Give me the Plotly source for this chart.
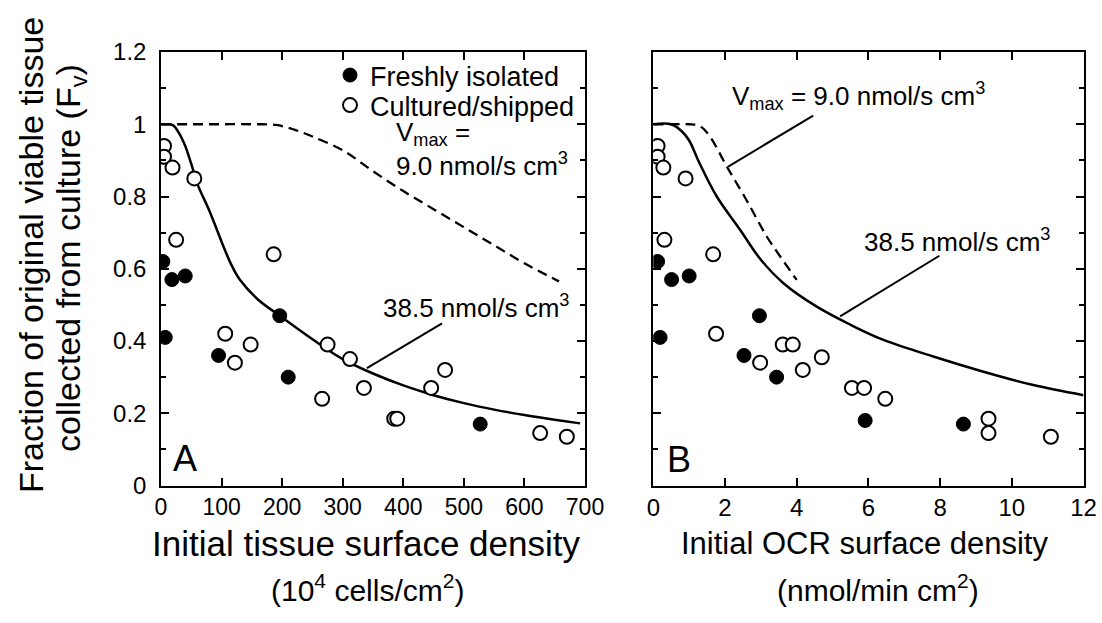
import plotly.graph_objects as go

W, H = 1102, 623

# ---- Panel A: initial tissue surface density (10^4 cells/cm^2) ----
a_fresh_x = [3, 18, 40, 7, 95, 196, 210, 527]
a_fresh_y = [0.62, 0.57, 0.58, 0.41, 0.36, 0.47, 0.30, 0.17]
a_cult_x = [5, 5, 19, 55, 25, 186, 106, 122, 148, 266, 275, 312, 335, 385, 390, 446, 469, 626, 670]
a_cult_y = [0.94, 0.91, 0.88, 0.85, 0.68, 0.64, 0.42, 0.34, 0.39, 0.24, 0.39, 0.35, 0.27, 0.185, 0.185,
            0.27, 0.32, 0.145, 0.135]

# model curves, Vmax = 38.5 (solid) and 9.0 (dashed) nmol/s cm^3
a_fit38_x = [0, 10, 20, 30, 40, 50, 60, 80, 100, 115, 130, 160, 196, 250, 300, 350, 400, 450, 500, 550,
             600, 650, 692]
a_fit38_y = [1.0, 1.0, 0.997, 0.975, 0.94, 0.89, 0.835, 0.76, 0.675, 0.615, 0.57, 0.515, 0.47, 0.405,
             0.35, 0.31, 0.277, 0.25, 0.228, 0.21, 0.195, 0.182, 0.172]
a_fit9_x = [0, 50, 100, 150, 190, 220, 250, 300, 350, 400, 450, 500, 550, 600, 657]
a_fit9_y = [1.0, 1.0, 1.0, 1.0, 0.998, 0.985, 0.966, 0.928, 0.87, 0.815, 0.765, 0.715, 0.665, 0.615,
            0.565]

# ---- Panel B: initial OCR surface density (nmol/min cm^2) ----
b_fresh_x = [0.12, 0.51, 1.0, 0.19, 2.96, 2.53, 3.44, 5.91, 8.65]
b_fresh_y = [0.62, 0.57, 0.58, 0.41, 0.47, 0.36, 0.30, 0.18, 0.17]
b_cult_x = [0.12, 0.12, 0.28, 0.9, 0.31, 1.67, 1.75, 2.98, 3.61, 3.89, 4.17, 4.7, 5.54, 5.88, 6.47,
            9.35, 9.35, 11.09]
b_cult_y = [0.94, 0.91, 0.88, 0.85, 0.68, 0.64, 0.42, 0.34, 0.39, 0.39, 0.32, 0.355, 0.27, 0.27, 0.24,
            0.185, 0.145, 0.135]

b_fit38_x = [0, 0.5, 0.8, 1.0, 1.3, 1.77, 2.42, 3.0, 3.63, 4.56, 5.5, 6.42, 7.81, 9.21, 10.6, 12]
b_fit38_y = [1.0, 1.0, 0.98, 0.955, 0.89, 0.80, 0.708, 0.625, 0.56, 0.495, 0.445, 0.403, 0.357, 0.315,
             0.278, 0.25]
b_fit9_x = [0, 0.6, 1.0, 1.3, 1.58, 2.05, 2.6, 3.16, 3.54, 4.0]
b_fit9_y = [1.0, 1.0, 1.0, 0.995, 0.966, 0.883, 0.79, 0.69, 0.634, 0.569]

x_a_ticks = [0, 100, 200, 300, 400, 500, 600, 700]
x_b_ticks = [0, 2, 4, 6, 8, 10, 12]
y_ticks = [0, 0.2, 0.4, 0.6, 0.8, 1, 1.2]

FONT = "Liberation Sans, Arial, sans-serif"


def px(x):
    return x / W


def py(y):
    return 1 - y / H


fresh_marker = dict(size=14, color="black", line=dict(color="black", width=1))
cult_marker = dict(size=14, color="white", line=dict(color="black", width=2))
solid_line = dict(color="black", width=2.5)
dash_line = dict(color="black", width=2.3, dash="10px,6px")

fig = go.Figure()

# Panel A
fig.add_trace(go.Scatter(x=a_fit9_x, y=a_fit9_y, mode="lines", line=dash_line, line_shape="spline",
                         showlegend=False, xaxis="x", yaxis="y"))
fig.add_trace(go.Scatter(x=a_fit38_x, y=a_fit38_y, mode="lines", line=solid_line, line_shape="spline",
                         showlegend=False, xaxis="x", yaxis="y"))
fig.add_trace(go.Scatter(x=a_fresh_x, y=a_fresh_y, mode="markers", name="Freshly isolated",
                         marker=fresh_marker, legend="legend", xaxis="x", yaxis="y"))
fig.add_trace(go.Scatter(x=a_cult_x, y=a_cult_y, mode="markers", name="Cultured/shipped",
                         marker=cult_marker, legend="legend2", xaxis="x", yaxis="y"))

# Panel B
fig.add_trace(go.Scatter(x=b_fit9_x, y=b_fit9_y, mode="lines", line=dash_line, line_shape="spline",
                         showlegend=False, xaxis="x2", yaxis="y2"))
fig.add_trace(go.Scatter(x=b_fit38_x, y=b_fit38_y, mode="lines", line=solid_line, line_shape="spline",
                         showlegend=False, xaxis="x2", yaxis="y2"))
fig.add_trace(go.Scatter(x=b_fresh_x, y=b_fresh_y, mode="markers", showlegend=False,
                         marker=fresh_marker, xaxis="x2", yaxis="y2"))
fig.add_trace(go.Scatter(x=b_cult_x, y=b_cult_y, mode="markers", showlegend=False,
                         marker=cult_marker, xaxis="x2", yaxis="y2"))

axis_common = dict(showline=True, linecolor="black", linewidth=1.5, mirror="ticks", ticks="inside",
                   ticklen=8, tickwidth=1.5, tickcolor="black", showgrid=False, zeroline=False,
                   fixedrange=True, automargin=False)
minor_y = dict(dtick=0.1, ticks="inside", ticklen=5, tickwidth=1.5, tickcolor="black")
y_dom = [py(485.5), py(52)]
legend_common = dict(xanchor="left", yanchor="top", bgcolor="rgba(0,0,0,0)", font=dict(size=27),
                     itemwidth=30, borderwidth=0)

fig.update_layout(
    width=W, height=H,
    margin=dict(l=0, r=0, t=0, b=0),
    paper_bgcolor="white", plot_bgcolor="white",
    font=dict(family=FONT, color="black", size=24),
    xaxis=dict(domain=[px(161), px(585)], range=[0, 700], tickvals=x_a_ticks,
               tickfont=dict(size=23), ticklabelstandoff=0, **axis_common),
    yaxis=dict(domain=y_dom, range=[0, 1.2], tickvals=y_ticks, tickfont=dict(size=24),
               ticklabelstandoff=8, minor=minor_y, **axis_common),
    xaxis2=dict(domain=[px(653.3), px(1083.5)], range=[0, 12], tickvals=x_b_ticks,
                tickfont=dict(size=24), ticklabelstandoff=0, anchor="y2", **axis_common),
    yaxis2=dict(domain=y_dom, range=[0, 1.2], tickvals=y_ticks, showticklabels=False, anchor="x2",
                minor=minor_y, **axis_common),
    legend=dict(x=px(330), y=py(51), **legend_common),
    legend2=dict(x=px(330), y=py(81), **legend_common),
)

ann = []


def text(x, y, s, size, xanchor="center", angle=0, align="center"):
    ann.append(dict(x=px(x), y=py(y), xref="paper", yref="paper", text=s, showarrow=False,
                    xanchor=xanchor, yanchor="middle", textangle=angle, align=align,
                    font=dict(size=size, family=FONT, color="black")))


# axis titles
text(366, 543, "Initial tissue surface density", 35)
text(367, 588, "(10<sup>4</sup> cells/cm<sup>2</sup>)", 30)
text(864, 543, "Initial OCR surface density", 31)
text(878, 588, "(nmol/min cm<sup>2</sup>)", 30)
text(31, 255, "Fraction of original viable tissue", 34, angle=-90)
text(70, 258, "collected from culture (F<sub>v</sub>)", 34, angle=-90)

# panel letters
text(185, 458, "A", 36)
text(679, 460, "B", 36)

# curve labels
text(394, 149, "V<sub>max</sub> =<br>9.0 nmol/s cm<sup>3</sup>", 26, xanchor="left", align="left")
text(476, 306, "38.5 nmol/s cm<sup>3</sup>", 26)
text(730, 96, "V<sub>max</sub> = 9.0 nmol/s cm<sup>3</sup>", 26, xanchor="left")
text(957, 240, "38.5 nmol/s cm<sup>3</sup>", 26)

fig.update_layout(annotations=ann)

# leader lines from labels to curves
leaders = [
    ("x", "y", 464, 0.449, 340, 0.325),
    ("x2", "y2", 4.46, 1.024, 2.09, 0.883),
    ("x2", "y2", 7.98, 0.636, 5.21, 0.468),
]
for xr, yr, x0, y0, x1, y1 in leaders:
    fig.add_shape(type="line", xref=xr, yref=yr, x0=x0, y0=y0, x1=x1, y1=y1,
                  line=dict(color="black", width=2))

fig.write_html("out.html")
